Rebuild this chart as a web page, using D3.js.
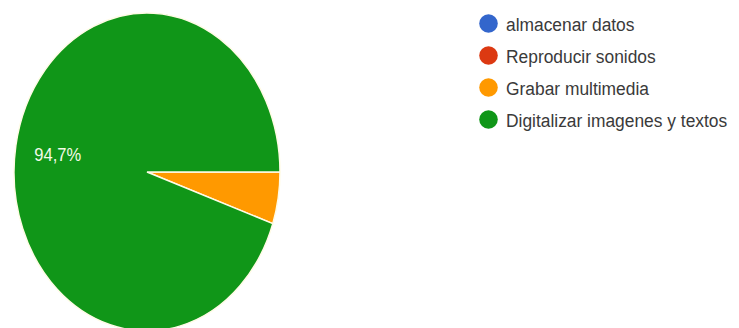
<!DOCTYPE html>
<html>
<head>
<meta charset="utf-8">
<script src="https://cdn.jsdelivr.net/npm/d3@7"></script>
<style>
  body { margin: 0; background: #fff; }
  svg { display: block; font-family: "Liberation Sans", Arial, sans-serif; }
</style>
</head>
<body>
<div class="pie-chart-container"></div>
<script>
// respuestas de la encuesta
var categorias = ["almacenar datos", "Reproducir sonidos", "Grabar multimedia", "Digitalizar imagenes y textos"];
var respuestas = [0, 0, 1, 18];
var colores = ["#3366cc", "#dc3912", "#ff9900", "#109618"];

var width = 739,
    height = 328;

var cx = 147, cy = 172,
    rx = 133, ry = 159;

var svg = d3.select('.pie-chart-container')
    .append('svg')
    .attr("width", width)
    .attr("height", height);

var datos = categorias.map(function(c, i) {
    return { nombre: c, valor: respuestas[i], color: colores[i] };
});

var total = d3.sum(respuestas);

var pie = d3.pie()
    .sort(null)
    .value(function(d) { return d.valor; })
    .startAngle(Math.PI / 2)
    .endAngle(Math.PI / 2 + 2 * Math.PI);

var arc = d3.arc()
    .innerRadius(0)
    .outerRadius(rx);

// the pie is stretched vertically in the picture
var gPie = svg.append("g")
    .attr("transform", "translate(" + cx + "," + cy + ") scale(1," + (ry / rx) + ")");

var arcos = pie(datos).filter(function(d) { return d.data.valor > 0; });

gPie.selectAll("path")
    .data(arcos)
    .enter().append("path")
    .attr("d", arc)
    .attr("fill", function(d) { return d.data.color; })
    .attr("stroke", "#fffbe6")
    .attr("stroke-width", 1.5)
    .attr("vector-effect", "non-scaling-stroke");

// porcentaje solo en la rebanada grande
var fmt = function(v) { return d3.format(".1f")(v).replace(".", ","); };

svg.selectAll("text.pct")
    .data(arcos.filter(function(d) { return d.data.valor / total > 0.1; }))
    .enter().append("text")
    .attr("class", "pct")
    .attr("transform", function(d) {
        var a = (d.startAngle + d.endAngle) / 2;
        var x = cx + Math.sin(a) * rx * 0.68,
            y = cy - Math.cos(a) * ry * 0.68 + 7;
        return "translate(" + x + "," + y + ") scale(0.92,1)";
    })
    .attr("text-anchor", "middle")
    .attr("fill", "#f4fbe8")
    .style("font-size", "18px")
    .text(function(d) { return fmt(d.data.valor / total * 100) + "%"; });

// leyenda
var leyenda = svg.append("g")
    .attr("transform", "translate(488.5,23.5)");

var items = leyenda.selectAll("g")
    .data(datos)
    .enter().append("g")
    .attr("transform", function(d, i) { return "translate(0," + (i * 32) + ")"; });

items.append("ellipse")
    .attr("rx", 9.3)
    .attr("ry", 9.2)
    .attr("fill", function(d) { return d.color; });

items.append("text")
    .attr("transform", "translate(17.5,7.5) scale(0.915,1)")
    .attr("fill", "#3a3a3a")
    .style("font-size", "19px")
    .text(function(d) { return d.nombre; });
</script>
</body>
</html>
